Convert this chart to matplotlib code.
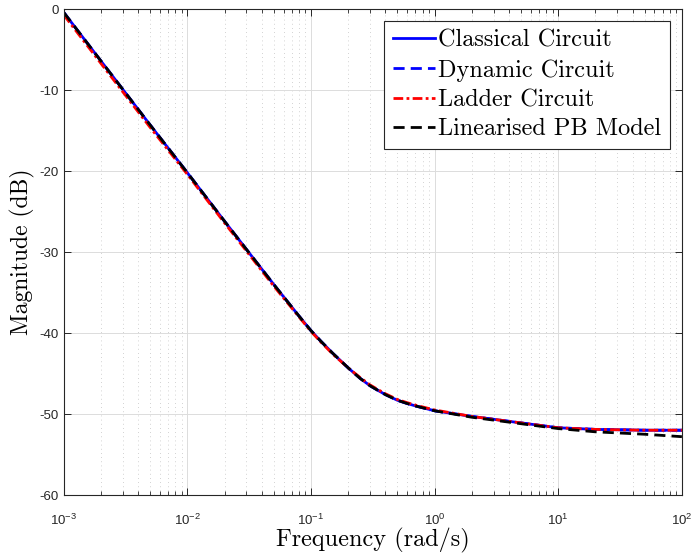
import matplotlib
matplotlib.use('Agg')
import matplotlib.pyplot as plt
from matplotlib.ticker import LogLocator, NullFormatter

# Частоты (rad/s) и значения АЧХ (dB)
freq = [1e-3, 2e-3, 5e-3, 1e-2, 2e-2, 5e-2, 0.08, 0.1, 0.12, 0.15, 0.2, 0.25,
        0.3, 0.35, 0.4, 0.5, 0.6, 0.7, 1, 2, 5, 10, 20, 50, 100]
mag_classical = [-0.4, -6.4, -14.3, -20.2, -26.2, -34.0, -37.9, -39.7, -41.0,
                 -42.5, -44.3, -45.6, -46.5, -47.1, -47.6, -48.3, -48.7,
                 -49.0, -49.6, -50.3, -51.1, -51.7, -51.9, -52.0, -52.0]
mag_dynamic = [-0.4, -6.4, -14.3, -20.2, -26.2, -34.0, -37.9, -39.7, -41.0,
               -42.5, -44.3, -45.6, -46.5, -47.1, -47.6, -48.3, -48.7,
               -49.0, -49.6, -50.3, -51.1, -51.7, -51.9, -52.0, -52.0]
mag_ladder = [-0.7, -6.7, -14.6, -20.4, -26.4, -34.2, -38.0, -39.8, -41.1,
              -42.6, -44.3, -45.5, -46.4, -47.0, -47.5, -48.2, -48.6,
              -48.9, -49.5, -50.3, -51.1, -51.7, -51.9, -52.0, -52.0]
mag_pb = [-0.4, -6.4, -14.3, -20.2, -26.2, -34.0, -37.9, -39.7, -41.0,
          -42.5, -44.3, -45.6, -46.5, -47.1, -47.6, -48.3, -48.7,
          -49.0, -49.6, -50.4, -51.2, -51.8, -52.2, -52.5, -52.8]

plt.rcParams['axes.unicode_minus'] = False
plt.rcParams['mathtext.fontset'] = 'custom'
plt.rcParams['mathtext.rm'] = 'Liberation Sans'
plt.rcParams['mathtext.default'] = 'regular'

fig = plt.figure(figsize=(6.93, 5.57), dpi=100)
ax = fig.add_axes([0.0918, 0.1113, 0.8922, 0.8725])

ax.semilogx(freq, mag_classical, color='#0000ff', lw=2, ls='-',
            label='Classical Circuit')
ax.semilogx(freq, mag_dynamic, color='#0000ff', lw=2, ls=(0, (4, 2.2)),
            label='Dynamic Circuit')
ax.semilogx(freq, mag_ladder, color='#ff0000', lw=2, ls=(0, (3.5, 1.2, 1, 1.2)),
            label='Ladder Circuit')
ax.semilogx(freq, mag_pb, color='black', lw=2, ls=(0, (4, 2.2)),
            label='Linearised PB Model')

ax.set_xlim(1e-3, 1e2)
ax.set_ylim(-60, 0)
ax.set_yticks(range(-60, 1, 10))
ax.set_yticklabels([str(v) for v in range(-60, 1, 10)])
ax.xaxis.set_major_locator(LogLocator(base=10, numticks=10))
ax.xaxis.set_minor_locator(LogLocator(base=10, subs=range(2, 10), numticks=20))
ax.xaxis.set_minor_formatter(NullFormatter())

ax.grid(True, which='major', color='#dcdcdc', lw=0.7, ls='-')
ax.grid(True, which='minor', axis='x', color='#c4c4c4', lw=0.6, ls=(0, (1, 4)))
ax.set_axisbelow(True)

ax.tick_params(which='both', direction='in', top=True, right=True,
               colors='#262626', labelsize=9.5, labelfontfamily='Liberation Sans')
ax.tick_params(which='major', length=5, width=0.7)
ax.tick_params(which='minor', length=3, width=0.6)
ax.tick_params(axis='x', which='major', pad=13)
for s in ax.spines.values():
    s.set_color('#262626')
    s.set_linewidth(0.8)

ax.set_xlabel('Frequency (rad/s)', fontsize=17.5, family='cmr10', labelpad=0)
ax.set_ylabel('Magnitude (dB)', fontsize=17, family='cmr10', labelpad=3)

leg = ax.legend(loc='upper right', prop={'family': 'cmr10', 'size': 17.5},
                handlelength=1.75, handletextpad=0.12, borderpad=0.35,
                labelspacing=0.3, fancybox=False, framealpha=1,
                borderaxespad=0.5)
leg.get_frame().set_edgecolor('#262626')
leg.get_frame().set_linewidth(0.8)

plt.savefig('out.png', dpi=100)
plt.close()
